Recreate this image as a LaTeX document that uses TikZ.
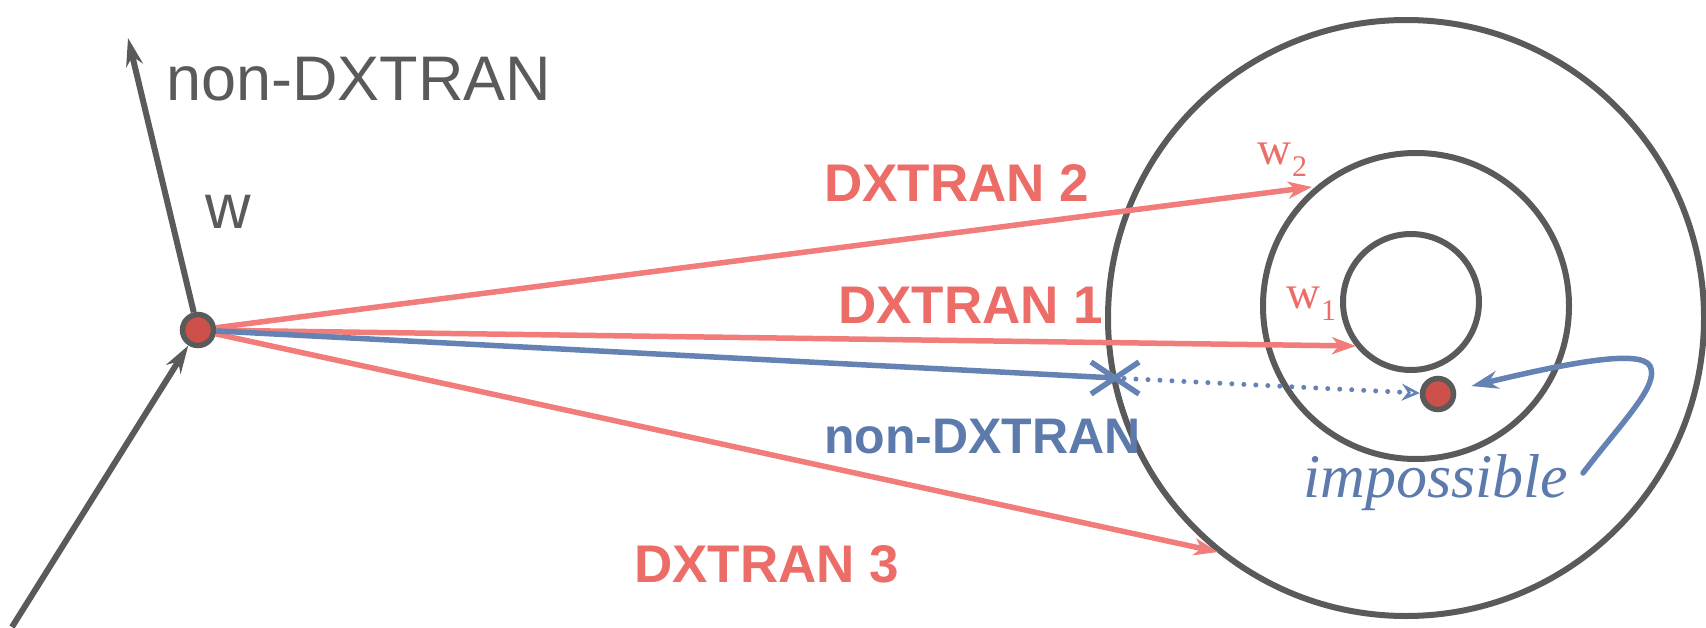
\documentclass[tikz,border=0pt]{standalone}
\usepackage{fontspec}
\setmainfont{Liberation Serif}
\setsansfont{Liberation Sans}
\usetikzlibrary{arrows.meta}

\definecolor{dxred}{RGB}{241,124,122}
\definecolor{dxredtext}{RGB}{236,108,104}
\definecolor{ndblue}{RGB}{100,130,180}
\definecolor{ndbluetext}{RGB}{92,122,172}
\definecolor{ringgray}{RGB}{90,90,90}
\definecolor{dotred}{RGB}{205,80,74}

\tikzset{
  ring/.style={circle, draw=ringgray, line width=6pt, inner sep=0pt},
  particle/.style={circle, fill=dotred, draw=ringgray, line width=5.5pt,
    minimum size=31pt, inner sep=0pt},
  grayarrow/.style={draw=ringgray, line width=6pt,
    -{Stealth[length=28pt, width=17pt, inset=9pt]}},
  redarrow/.style={draw=dxred, line width=5.5pt,
    -{Stealth[length=24pt, width=17pt, inset=7pt]}},
  blueline/.style={draw=ndblue, line width=5.5pt},
  dotarrow/.style={draw=ndblue, line width=5pt, line cap=round,
    dash pattern=on 0pt off 12pt,
    -{Stealth[open, length=18pt, width=17pt, inset=6pt, line width=2.5pt, line cap=butt]}},
  curvearrow/.style={draw=ndblue, line width=5.5pt, line cap=round,
    -{Stealth[length=27pt, width=18pt, inset=9pt]}},
  graylabel/.style={text=ringgray, inner sep=0pt, anchor=base west,
    font=\sffamily\fontsize{63}{70}\selectfont},
  redlabel/.style={text=dxredtext, inner sep=0pt, anchor=base west,
    font=\sffamily\bfseries\fontsize{53}{60}\selectfont},
  bluelabel/.style={text=ndbluetext, inner sep=0pt, anchor=base west,
    font=\sffamily\bfseries\fontsize{50}{60}\selectfont},
  weightlabel/.style={text=dxredtext, inner sep=0pt, anchor=base west,
    font=\rmfamily\fontsize{47}{50}\selectfont},
}

\begin{document}
\begin{tikzpicture}[x=1pt, y=-1pt]
  \useasboundingbox (0,0) rectangle (1706,627);

  % DXTRAN spheres
  \node[ring, minimum size=596pt] (outer)  at (1406,318) {};
  \node[ring, minimum size=306pt] (middle) at (1416,306) {};
  \node[ring, minimum size=136pt] (inner)  at (1411,302) {};

  % collision site and point detector
  \node[particle] (src) at (198,330) {};
  \node[particle] (tgt) at (1438,394) {};

  % free ends of the connectors
  \coordinate (lowstart) at (12,627);
  \coordinate (uptip)    at (128,38);
  \coordinate (tip2)     at (1312,187);
  \coordinate (tip1)     at (1356,346);
  \coordinate (tip3)     at (1218,552);
  \coordinate (kill)     at (1115,378);
  \coordinate (curvebeg) at (1583,473);

  % incoming track and ordinary outgoing track
  \draw[grayarrow] (lowstart) -- (src);
  \draw[grayarrow] (src) -- (uptip);

  % DXTRAN particles
  \draw[redarrow] (src) -- (tip2);
  \draw[redarrow] (src) -- (tip1);
  \draw[redarrow] (src) -- (tip3);

  % non-DXTRAN particle killed on entering the sphere
  \draw[blueline] (src) -- (kill);
  \draw[blueline, shift={(kill)}] (-24,-16) -- (24,16) (-24,16) -- (24,-16);
  \draw[dotarrow, shorten <=9pt] (kill) -- (tgt);

  % impossible path
  \draw[curvearrow, shorten >=16pt] (curvebeg)
    .. controls (1622,422) and (1660,385) .. (1650,366)
    .. controls (1640,348) and (1560,365) .. (tgt);

  % labels
  \node[graylabel] (lblup) at (166,100) {non-DXTRAN};
  \node[graylabel, anchor=base] (lblw) at (228,228) {w};
  \node[redlabel] (lbl2) at (824,201) {DXTRAN 2};
  \node[redlabel] (lbl1) at (838,323) {DXTRAN 1};
  \node[bluelabel] (lblnd) at (824,453) {non-DXTRAN};
  \node[redlabel] (lbl3) at (634,582) {DXTRAN 3};
  \node[weightlabel] (w2) at (1257,164)
    {w\kern1pt\raisebox{-12pt}{\fontsize{30}{30}\selectfont 2}};
  \node[weightlabel] (w1) at (1286,308)
    {w\kern1pt\raisebox{-12pt}{\fontsize{30}{30}\selectfont 1}};
  \node[text=ndbluetext, inner sep=0pt, anchor=base west,
    font=\rmfamily\itshape\fontsize{62}{70}\selectfont] (imp) at (1303,497) {impossible};
\end{tikzpicture}
\end{document}
